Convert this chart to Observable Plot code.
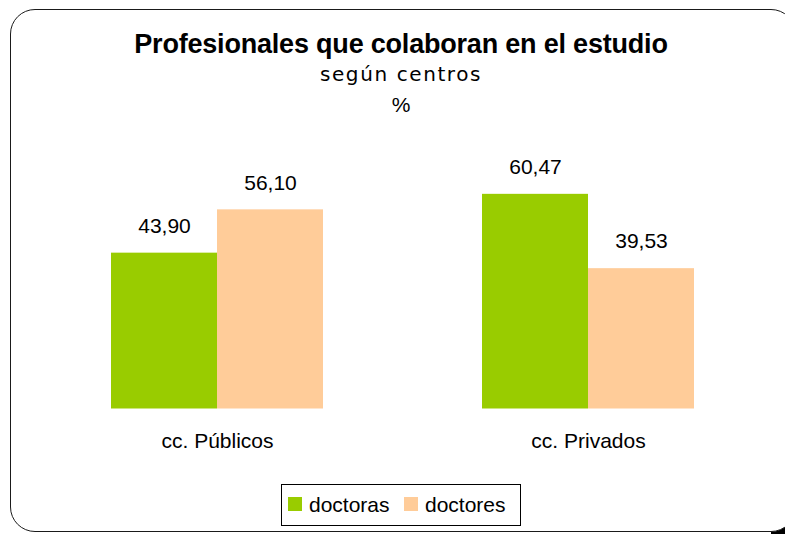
<!DOCTYPE html>
<html>
<head>
<meta charset="utf-8">
<script src="https://cdn.jsdelivr.net/npm/d3@7"></script>
<script src="https://cdn.jsdelivr.net/npm/@observablehq/plot@0.6"></script>
<style>
  html, body { margin: 0; padding: 0; background: #fff; }
  body { width: 785px; height: 534px; overflow: hidden; position: relative; font-family: "Liberation Sans", Arial, sans-serif; }
  #corner { position: absolute; right: 0; bottom: 0; width: 14px; height: 12px; background: #000; z-index: 0; }
  #frame { position: absolute; left: 10px; top: 9px; width: 784px; height: 521px; border: 1.5px solid #1a1a1a; border-radius: 25px; background: #fff; z-index: 1; }
  .t { position: absolute; left: 0; width: 802px; text-align: center; z-index: 2; color: #000; white-space: nowrap; }
  #title { top: 29px; font-weight: bold; font-size: 27px; letter-spacing: -0.2px; }
  #subtitle { top: 62px; font-family: "DejaVu Sans", sans-serif; font-size: 20px; letter-spacing: 1.6px; }
  #pct { top: 93px; font-size: 21px; }
  #chart { position: absolute; left: 0; top: 140px; z-index: 2; }
  #legend { position: absolute; left: 281px; top: 484px; width: 238px; height: 40px; border: 1px solid #000; background: #fff; z-index: 2; font-size: 21px; }
  .item { position: absolute; top: 0; height: 40px; line-height: 40px; }
  .sw { display: inline-block; width: 14px; height: 14px; vertical-align: middle; margin-right: 7px; position: relative; top: -2px; }
</style>
</head>
<body>
<div id="corner"></div>
<div id="frame"></div>
<div id="title" class="t">Profesionales que colaboran en el estudio</div>
<div id="subtitle" class="t">según centros</div>
<div id="pct" class="t">%</div>
<div id="chart"></div>
<div id="legend"></div>
<script>
const categories = ["cc. Públicos", "cc. Privados"];
const series = ["doctoras", "doctores"];
const doctoras = [43.90, 60.47];
const doctores = [56.10, 39.53];
const colors = ["#99CC00", "#FFCC99"];

const data = categories.flatMap((c, i) => [
  {cat: c, serie: series[0], value: doctoras[i]},
  {cat: c, serie: series[1], value: doctores[i]}
]);

const fmt = v => v.toFixed(2).replace(".", ",");

const chart = Plot.plot({
  width: 785,
  height: 330,
  marginTop: 20,
  marginBottom: 61.5,
  marginLeft: 110,
  marginRight: 90,
  fx: {domain: categories, paddingInner: 0.4274, paddingOuter: 0, label: null},
  x: {domain: series, padding: 0, axis: null},
  y: {domain: [0, 70], axis: null},
  color: {domain: series, range: colors},
  style: {fontFamily: "'Liberation Sans', Arial, sans-serif", fontSize: "21px", color: "#000", background: "transparent", overflow: "visible"},
  marks: [
    Plot.barY(data, {fx: "cat", x: "serie", y: "value", fill: "serie"}),
    Plot.text(data, {fx: "cat", x: "serie", y: "value", text: d => fmt(d.value), dy: -27, fontSize: 21, fill: "#000"}),
    Plot.axisFx({anchor: "bottom", tickSize: 0, tickPadding: 24, fontSize: 21, label: null, fill: "#000"})
  ]
});
document.getElementById("chart").appendChild(chart);

const legend = document.getElementById("legend");
const lx = [6, 122];
series.forEach((s, i) => {
  const it = document.createElement("div");
  it.className = "item";
  it.style.left = lx[i] + "px";
  it.innerHTML = `<span class="sw" style="background:${colors[i]}"></span>${s}`;
  legend.appendChild(it);
});
</script>
</body>
</html>
